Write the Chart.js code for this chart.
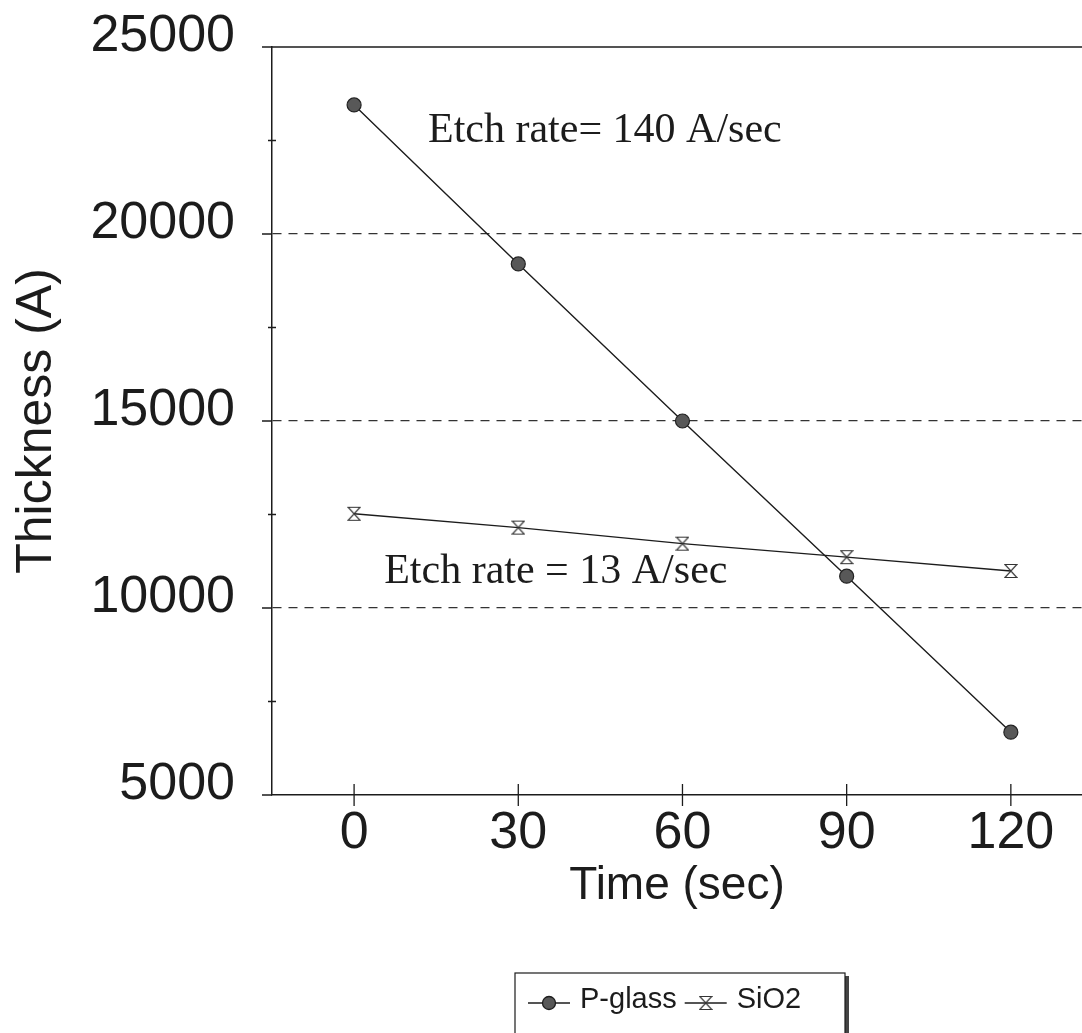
<!DOCTYPE html>
<html>
<head>
<meta charset="utf-8">
<script src="https://cdn.jsdelivr.net/npm/chart.js@4/dist/chart.umd.min.js"></script>
<style>
  html, body { margin: 0; padding: 0; background: #fff; overflow: hidden; }
  canvas { display: block; }
</style>
</head>
<body>
<canvas id="chart" width="1082" height="1033"></canvas>
<script>
const times = [0, 30, 60, 90, 120];
const pGlass = [23450, 19200, 15000, 10850, 6680];
const sio2 = [12520, 12150, 11720, 11360, 10990];
const xTicks = [0, 30, 60, 90, 120];
const yTicks = [5000, 10000, 15000, 20000, 25000];
const yMinorTicks = [7500, 12500, 17500, 22500];
const seriesNames = ['P-glass', 'SiO2'];
const noteTexts = ['Etch rate= 140 A/sec', 'Etch rate = 13 A/sec'];

const ink = '#1c1c1c';
const sans = "'Liberation Sans', Arial, sans-serif";
const serif = "'Liberation Serif', 'Times New Roman', serif";

// open hourglass marker used for SiO2
function hourglass(w, h) {
  const c = document.createElement('canvas');
  c.width = w;
  c.height = h;
  const g = c.getContext('2d');
  g.strokeStyle = '#333';
  g.lineWidth = 1.2;
  g.beginPath();
  g.moveTo(1, 1.5);
  g.lineTo(w - 1, 1.5);
  g.lineTo(1, h - 1.5);
  g.lineTo(w - 1, h - 1.5);
  g.closePath();
  g.stroke();
  return c;
}
const glassMark = hourglass(14, 16);

const toXY = vals => times.map((t, i) => ({x: t, y: vals[i]}));

// tick marks, frame top line and the two etch-rate notes
const decorPlugin = {
  id: 'decor',
  afterDraw(chart) {
    const {ctx, chartArea: a, scales: {x, y}} = chart;
    ctx.save();
    ctx.strokeStyle = ink;
    ctx.lineWidth = 1.3;
    ctx.beginPath();
    ctx.moveTo(a.left - 10, y.getPixelForValue(25000));
    ctx.lineTo(a.right, y.getPixelForValue(25000));
    xTicks.forEach(v => {
      const px = x.getPixelForValue(v);
      ctx.moveTo(px, a.bottom - 11);
      ctx.lineTo(px, a.bottom + 11);
    });
    yTicks.forEach(v => {
      const py = y.getPixelForValue(v);
      ctx.moveTo(a.left - 10, py);
      ctx.lineTo(a.left, py);
    });
    yMinorTicks.forEach(v => {
      const py = y.getPixelForValue(v);
      ctx.moveTo(a.left - 4, py);
      ctx.lineTo(a.left + 4, py);
    });
    ctx.stroke();

    ctx.fillStyle = ink;
    ctx.font = '42px ' + serif;
    ctx.textBaseline = 'alphabetic';
    ctx.textAlign = 'left';
    ctx.fillText(noteTexts[0], x.getPixelForValue(13.5), y.getPixelForValue(22460));
    ctx.fillText(noteTexts[1], x.getPixelForValue(5.5), y.getPixelForValue(10670));
    ctx.restore();
  }
};

// boxed legend below the axis title, line + marker + name
const legendPlugin = {
  id: 'boxLegend',
  afterDraw(chart) {
    const ctx = chart.ctx;
    const left = 515, top = 973, w = 330, h = 62;
    ctx.save();
    ctx.fillStyle = '#444';
    ctx.fillRect(left + w, top + 3, 4, h);
    ctx.strokeStyle = ink;
    ctx.lineWidth = 1.2;
    ctx.strokeRect(left, top, w, h);
    ctx.font = '29px ' + sans;
    ctx.textBaseline = 'alphabetic';
    let cx = left + 13;
    const midY = top + 30;
    chart.data.datasets.forEach(ds => {
      ctx.strokeStyle = ink;
      ctx.lineWidth = 1.3;
      ctx.beginPath();
      ctx.moveTo(cx, midY);
      ctx.lineTo(cx + 42, midY);
      ctx.stroke();
      const mx = cx + 21;
      if (ds.pointStyle === 'circle') {
        ctx.beginPath();
        ctx.arc(mx, midY, 6.5, 0, Math.PI * 2);
        ctx.fillStyle = ds.pointBackgroundColor;
        ctx.fill();
        ctx.stroke();
      } else {
        ctx.drawImage(glassMark, mx - 7, midY - 8);
      }
      ctx.fillStyle = ink;
      ctx.fillText(ds.label, cx + 52, midY + 5);
      cx += 52 + ctx.measureText(ds.label).width + 8;
    });
    ctx.restore();
  }
};

new Chart(document.getElementById('chart'), {
  type: 'line',
  data: {
    datasets: [
      {
        label: seriesNames[0],
        data: toXY(pGlass),
        borderColor: ink,
        borderWidth: 1.4,
        pointStyle: 'circle',
        pointRadius: 7,
        pointBackgroundColor: '#585858',
        pointBorderColor: '#222',
        pointBorderWidth: 1.2
      },
      {
        label: seriesNames[1],
        data: toXY(sio2),
        borderColor: ink,
        borderWidth: 1.4,
        pointStyle: glassMark,
        pointRadius: 8
      }
    ]
  },
  options: {
    animation: false,
    responsive: false,
    devicePixelRatio: 1,
    layout: { autoPadding: false, padding: { top: 47, right: 0, left: 0, bottom: 118 } },
    plugins: {
      legend: { display: false },
      tooltip: { enabled: false }
    },
    scales: {
      x: {
        type: 'linear',
        min: -15,
        max: 133,
        afterBuildTicks: s => { s.ticks = xTicks.map(v => ({value: v})); },
        afterFit: s => { s.height = 120; s.paddingLeft = 0; s.paddingRight = 0; },
        grid: { display: false },
        border: { display: true, color: ink, width: 1.5 },
        ticks: {
          color: ink,
          padding: 5,
          maxRotation: 0,
          font: { family: sans, size: 52, lineHeight: 1 }
        },
        title: {
          display: true,
          text: 'Time (sec)',
          color: ink,
          padding: { top: 0, bottom: 6 },
          font: { family: sans, size: 46, lineHeight: 1 }
        }
      },
      y: {
        min: 5000,
        max: 25000,
        afterBuildTicks: s => { s.ticks = yTicks.map(v => ({value: v})); },
        afterFit: s => { s.width = 272; s.paddingTop = 0; s.paddingBottom = 0; },
        grid: {
          drawTicks: false,
          lineWidth: 1.2,
          color: c => [10000, 15000, 20000].includes(c.tick && c.tick.value) ? '#333' : 'rgba(0,0,0,0)'
        },
        border: { display: true, color: ink, width: 1.5, dash: [9, 7] },
        ticks: {
          color: ink,
          padding: 37,
          labelOffset: -10,
          font: { family: sans, size: 52, lineHeight: 1 },
          callback: v => String(v)
        },
        title: {
          display: true,
          text: 'Thickness (A)',
          color: ink,
          padding: { top: 12, bottom: 0 },
          font: { family: sans, size: 50, lineHeight: 1 }
        }
      }
    }
  },
  plugins: [decorPlugin, legendPlugin]
});
</script>
</body>
</html>
